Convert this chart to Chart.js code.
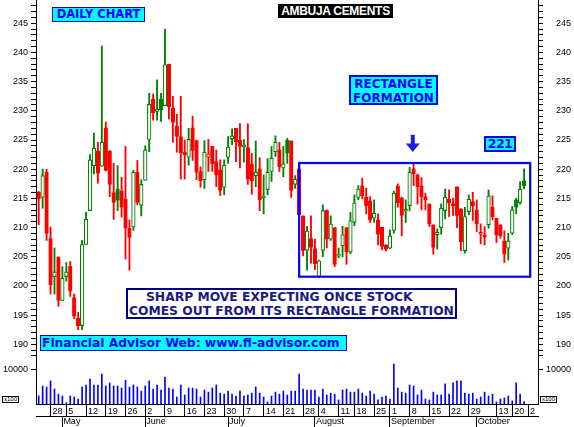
<!DOCTYPE html>
<html>
<head>
<meta charset="utf-8">
<script src="https://cdn.jsdelivr.net/npm/chart.js@4/dist/chart.umd.min.js"></script>
<style>
html,body{margin:0;padding:0;background:#fff;}
#wrap{position:relative;width:574px;height:427px;overflow:hidden;background:#fff;}
#c{position:absolute;left:0;top:0;}
.note{position:absolute;box-sizing:border-box;font-family:"DejaVu Sans",Verdana,sans-serif;font-weight:bold;white-space:nowrap;line-height:1;}
#daily{left:52px;top:7px;width:93px;height:15px;border:1px solid #0000ff;background:#00ffff;color:#0000ff;font-size:11.5px;text-align:center;line-height:13px;}
#title{left:278px;top:4px;width:115px;height:14px;background:#000;color:#fff;font-family:"Liberation Sans",Arial,sans-serif;font-size:12px;letter-spacing:-0.3px;text-align:center;line-height:14px;}
#rect{left:349px;top:75px;width:89px;height:30px;border:2px solid #0000ff;background:#00ffff;color:#0000ff;font-size:12px;text-align:center;line-height:14px;padding-top:0px;}
#lvl{left:484px;top:136px;width:32px;height:16px;border:2px solid #0000ff;background:#00ffff;color:#0000ff;font-size:12.5px;letter-spacing:-0.6px;text-align:center;line-height:12px;}
#sharp{left:126px;top:288px;width:331px;height:31px;border:2px solid #000080;background:#fff;color:#1a1a80;font-size:12.3px;line-height:13.5px;padding-top:1px;}
#sharp .l1{padding-left:18px;}
#sharp .l2{padding-left:1px;}
#web{left:40px;top:335px;width:307px;height:16px;border:1px solid #0000ff;background:#00ffff;color:#0000ff;font-size:12.3px;line-height:14px;padding-left:1px;}
.x100{position:absolute;box-sizing:border-box;border:1px solid #000;background:#fff;color:#000;font-family:"Liberation Sans",Arial,sans-serif;font-size:6px;line-height:5px;height:7px;width:17px;text-align:center;}
#xl{left:2px;top:396px;}
#xr{left:540px;top:396px;}
</style>
</head>
<body>
<div id="wrap">
<canvas id="c" width="574" height="427"></canvas>
<div class="note" id="daily">DAILY CHART</div>
<div class="note" id="title">AMBUJA CEMENTS</div>
<div class="note" id="rect">RECTANGLE<br>FORMATION</div>
<div class="note" id="lvl">221</div>
<div class="note" id="sharp"><div class="l1">SHARP MOVE EXPECTING ONCE STOCK</div><div class="l2">COMES OUT FROM ITS RECTANGLE FORMATION</div></div>
<div class="note" id="web">Financial Advisor Web: www.fi-advisor.com</div>
<div class="x100" id="xl">x100</div>
<div class="x100" id="xr">x100</div>
</div>
<script>
// ---- data (trading days, 22 Apr 2014 .. 23 Oct 2014) ----
const opens = [216.1,215.2,219.5,208.1,201.6,204.9,197.5,201.6,203.4,198.0,194.5,193.2,207.1,212.9,220.6,223.1,220.5,227.1,223.1,216.0,
216.6,216.3,214.9,209.9,210.1,219.5,213.8,218.1,225.1,232.0,229.9,232.0,230.9,238.0,230.5,227.4,225.6,222.9,222.05,227.1,
224.9,219.6,218.2,222.05,223.9,221.3,219.9,216.9,222.05,225.2,227.0,225.0,223.8,223.7,220.85,218.9,220.05,215.1,216.5,219.6,
223.0,223.3,220.2,225.0,224.85,217.4,220.05,212.0,206.1,208.1,206.4,201.6,206.1,213.0,208.0,210.0,205.1,206.9,210.0,205.8,
210.9,215.15,217.14,215.2,214.57,211.6,211.31,210.06,207.03,206.46,209.49,217.14,215.02,212.8,213.77,220.05,219.02,217.14,215.25,214.05,
210.46,208.8,210.0,212.91,214.85,214.05,216.96,213.2,206.06,212.74,214.45,213.03,208.86,208.75,210.46,213.48,211.6,210.46,207.72,206.46,
209.03,214.74,214.28,217.99];
const highs = [216.2,220.0,220.0,210.1,206.5,205.0,203.3,204.0,204.2,198.6,195.5,207.8,212.6,222.5,226.2,224.6,241.1,228.1,223.2,221.0,
220.6,218.6,223.9,211.3,219.8,221.5,218.2,224.0,233.0,232.9,235.3,233.0,244.0,238.0,232.5,229.4,232.5,225.0,227.0,229.1,
225.0,220.4,224.9,225.1,223.9,223.3,221.6,221.6,225.6,226.9,227.0,227.8,225.1,227.8,222.7,224.85,222.0,219.0,221.8,223.9,
225.7,224.6,223.9,225.3,224.85,218.9,221.0,212.0,210.2,212.0,208.0,204.4,213.9,213.0,212.0,210.0,206.5,210.2,210.0,212.6,
215.6,217.2,218.45,216.74,215.31,214.74,212.34,210.06,207.03,209.6,216.28,217.48,215.2,214.74,220.33,220.9,219.19,218.56,215.88,214.05,
210.46,209.77,214.05,216.62,216.45,215.02,216.96,213.2,213.48,215.59,216.05,214.74,210.63,210.17,216.45,215.42,211.6,210.46,209.43,209.03,
213.6,215.02,217.88,220.05];
const lows = [210.5,213.3,207.8,198.6,198.6,196.5,197.5,200.8,198.2,194.4,192.5,192.5,207.1,212.9,219.2,217.6,220.5,219.7,215.3,211.4,
212.9,211.8,204.6,202.7,209.5,213.9,212.0,218.1,223.0,228.4,228.4,228.2,230.9,228.6,224.6,222.9,218.3,218.3,220.7,221.5,
218.2,216.9,216.7,219.6,219.6,217.0,215.5,215.6,221.0,224.2,221.3,220.2,221.2,217.4,215.7,217.0,212.9,212.35,215.6,217.9,
222.2,219.6,218.7,221.0,215.15,216.7,212.0,205.15,202.7,203.9,202.8,201.4,205.0,206.5,207.8,203.3,204.8,205.0,203.7,205.5,
210.3,214.75,214.9,212.34,210.86,210.91,207.03,206.18,206.0,206.35,209.03,213.5,208.57,210.86,212.86,217.19,214.0,213.03,213.03,210.17,
205.43,206.29,208.86,211.48,211.88,212.06,210.0,206.06,205.61,212.17,211.2,209.32,207.2,207.03,209.89,211.31,207.43,208.17,204.01,204.46,
208.8,212.34,214.0,216.62];
const closes = [214.9,218.9,209.0,200.2,202.4,197.5,201.3,202.4,199.1,194.8,193.2,207.1,211.4,221.6,223.6,219.3,224.6,219.8,217.4,214.3,
214.7,213.5,209.9,208.3,219.5,214.3,217.4,223.3,231.1,229.7,230.0,230.2,237.9,230.7,228.0,225.6,222.8,222.5,225.1,223.2,
219.5,218.0,222.9,222.6,220.9,219.0,216.35,220.7,223.8,225.7,224.7,223.9,223.95,218.3,218.0,219.5,214.75,215.25,219.5,221.9,
224.6,220.45,220.9,222.75,216.35,218.3,212.2,206.1,209.4,206.6,203.8,204.3,212.9,208.0,210.6,203.7,205.3,208.75,205.8,211.15,
214.2,216.6,215.45,213.77,211.31,212.46,208.86,206.75,206.29,208.57,215.88,214.28,212.06,212.9,219.48,219.19,217.02,215.31,214.74,210.63,
206.58,209.2,213.31,215.2,214.28,213.77,212.06,207.6,211.88,214.85,213.71,210.63,209.2,208.35,215.42,211.88,208.75,208.63,205.43,207.72,
213.03,213.48,216.56,217.19];
const volumes = [2400,5300,5000,6800,4400,2900,2350,400,2350,2060,1470,5000,5600,7350,5600,5600,8800,5300,6200,5300,
5300,4700,7000,5000,5600,5000,3800,5300,6800,4400,5600,4100,7900,4700,4400,2060,5600,2650,4700,4700,
4400,2060,4100,3500,4700,5600,3200,2900,3800,2900,2300,3800,2350,2650,3200,5000,3200,2060,600,2350,
3500,2900,3800,2650,3800,3800,8800,4400,4100,4100,4100,2060,4400,2650,3200,2900,1200,4100,4400,3500,
3500,4400,3200,2350,3800,2900,1200,2060,2350,1470,11760,4700,3500,3200,5600,5300,2650,4100,1470,1200,
3500,2650,2650,5900,2900,6200,6800,6800,3200,2900,3200,1470,2060,3500,2350,2900,600,1470,1760,2350,
900,6200,2900,700];

// tick labels (trading-day index of each Monday / first day of month)
const weekTickIdx = [3,7,12,17,22,27,32,37,42,47,52,57,62,67,71,76,80,85,89,94,99,104,109,116,120,124];
const weekTickLabels = ['28','5','12','19','26','2','9','16','23','30','7','14','21','28','4','11','18','25','1','8','15','22','29','13','20','2'];
const monthTickIdx = [6,27,48,70,89,111];
const monthTickLabels = ['May','June','July','August','September','October'];
const volumeTickValues = [10000];

// annotation levels
const rectangleDays = [66, 124.55];
const rectangleLevels = [221.06, 201.58];
const arrowDay = 94.8;
const arrowLevels = [225.9, 224.4, 222.95];

// ---- derived styles ----
const GREEN = '#008000', RED = '#ff0000';
const dayIdx = closes.map((_, i) => i);
const candleColor = closes.map((c, i) => (i === 0 ? c >= opens[i] : c >= closes[i - 1]) ? GREEN : RED);
const bodyFill = closes.map((c, i) => c > opens[i] ? '#ffffff' : candleColor[i]);

const X_MIN = -0.684, X_MAX = 126.53;
const Y_MIN = 187.65, Y_MAX = 248.99;
const VOL_MAX = 13529;

Chart.defaults.font.family = '"Liberation Sans", Arial, sans-serif';
Chart.defaults.font.size = 9;
Chart.defaults.color = '#000';

const annot = {
  id: 'annot',
  afterDatasetsDraw(chart) {
    const {ctx} = chart;
    const x = chart.scales.x, y = chart.scales.y;
    ctx.save();
    const x1 = x.getPixelForValue(rectangleDays[0]);
    const x2 = x.getPixelForValue(rectangleDays[1]);
    const y1 = y.getPixelForValue(rectangleLevels[0]);
    const y2 = y.getPixelForValue(rectangleLevels[1]);
    ctx.strokeStyle = '#0000ff';
    ctx.lineWidth = 2.2;
    ctx.strokeRect(x1, y1, x2 - x1, y2 - y1);
    const ax = x.getPixelForValue(arrowDay);
    const a0 = y.getPixelForValue(arrowLevels[0]);
    const a1 = y.getPixelForValue(arrowLevels[1]);
    const a2 = y.getPixelForValue(arrowLevels[2]);
    ctx.fillStyle = '#1c1ce6';
    ctx.beginPath();
    ctx.moveTo(ax - 2, a0);
    ctx.lineTo(ax + 2, a0);
    ctx.lineTo(ax + 2, a1);
    ctx.lineTo(ax + 7, a1);
    ctx.lineTo(ax, a2);
    ctx.lineTo(ax - 7, a1);
    ctx.lineTo(ax - 2, a1);
    ctx.closePath();
    ctx.fill();
    ctx.restore();
  }
};

function fixWidth(w) {
  return (s) => { s.width = w; s.paddingTop = 0; s.paddingBottom = 0; };
}
function fixHeight(h) {
  return (s) => { s.height = h; s.paddingLeft = 0; s.paddingRight = 0; };
}
function intTicks(s) {
  const t = [];
  for (let v = Math.ceil(s.min); v <= Math.floor(s.max); v++) t.push({value: v});
  s.ticks = t;
}
const priceLabel = (v) => (v % 5 === 0 ? String(v) : '');

new Chart(document.getElementById('c'), {
  type: 'bar',
  data: {
    datasets: [
      {
        label: 'range',
        data: dayIdx.map(i => ({x: i, y: [lows[i], highs[i]]})),
        backgroundColor: candleColor,
        borderWidth: 0,
        barThickness: 1.2,
        grouped: false,
        order: 3,
        xAxisID: 'x', yAxisID: 'y'
      },
      {
        label: 'body',
        data: dayIdx.map(i => ({x: i, y: [opens[i], closes[i]]})),
        backgroundColor: bodyFill,
        borderColor: candleColor,
        borderWidth: 1.1,
        borderSkipped: false,
        barThickness: 3.6,
        minBarLength: 2,
        grouped: false,
        order: 2,
        xAxisID: 'x', yAxisID: 'y'
      },
      {
        label: 'volume',
        data: dayIdx.map(i => ({x: i, y: volumes[i]})),
        backgroundColor: '#0000ff',
        borderWidth: 0,
        barThickness: 1,
        grouped: false,
        order: 1,
        xAxisID: 'x', yAxisID: 'yv'
      }
    ]
  },
  options: {
    responsive: false,
    devicePixelRatio: 1,
    animation: false,
    layout: {padding: {left: 0, right: 3, top: 0, bottom: 0}},
    plugins: {legend: {display: false}, tooltip: {enabled: false}},
    scales: {
      x: {
        type: 'linear', position: 'bottom', weight: 1, min: X_MIN, max: X_MAX, offset: false,
        afterBuildTicks: (s) => { s.ticks = weekTickIdx.map(v => ({value: v})); },
        afterFit: fixHeight(12),
        ticks: {autoSkip: false, maxRotation: 0, minRotation: 0, align: 'start', labelOffset: 2, padding: -10,
          callback: (v, i) => weekTickLabels[i]},
        grid: {drawOnChartArea: false, drawTicks: true, tickLength: 12, color: '#000', offset: false},
        border: {display: true, color: '#000', width: 1}
      },
      xm: {
        type: 'linear', position: 'bottom', weight: 2, min: X_MIN, max: X_MAX, offset: false,
        afterBuildTicks: (s) => { s.ticks = monthTickIdx.map(v => ({value: v})); },
        afterFit: fixHeight(11),
        ticks: {autoSkip: false, maxRotation: 0, minRotation: 0, align: 'start', labelOffset: 1, padding: -10.8,
          callback: (v, i) => monthTickLabels[i]},
        grid: {drawOnChartArea: false, drawTicks: true, tickLength: 11, color: '#000', offset: false},
        border: {display: true, color: '#000', width: 1}
      },
      y: {
        type: 'linear', position: 'left', stack: 'L', stackWeight: 358, weight: 2, min: Y_MIN, max: Y_MAX,
        afterBuildTicks: intTicks,
        afterFit: fixWidth(36),
        ticks: {autoSkip: false, padding: 3, callback: priceLabel},
        grid: {drawOnChartArea: false, tickLength: 5, color: '#000'},
        border: {display: true, color: '#000'}
      },
      yv: {
        type: 'linear', position: 'left', stack: 'L', stackWeight: 46, weight: 1, min: 0, max: VOL_MAX,
        afterBuildTicks: (s) => { s.ticks = volumeTickValues.map(v => ({value: v})); },
        afterFit: fixWidth(36),
        ticks: {autoSkip: false, padding: 3, callback: (v) => String(v)},
        grid: {drawOnChartArea: false, tickLength: 5, color: '#000'},
        border: {display: true, color: '#000'}
      },
      yR: {
        type: 'linear', position: 'right', stack: 'R', stackWeight: 358, weight: 1, min: Y_MIN, max: Y_MAX,
        afterBuildTicks: intTicks,
        afterFit: fixWidth(33),
        ticks: {autoSkip: false, crossAlign: 'far', callback: priceLabel},
        grid: {drawOnChartArea: false, tickLength: 5, color: '#000'},
        border: {display: true, color: '#000'}
      },
      yvR: {
        type: 'linear', position: 'right', stack: 'R', stackWeight: 46, weight: 2, min: 0, max: VOL_MAX,
        afterBuildTicks: (s) => { s.ticks = volumeTickValues.map(v => ({value: v})); },
        afterFit: fixWidth(33),
        ticks: {autoSkip: false, crossAlign: 'far', callback: (v) => String(v)},
        grid: {drawOnChartArea: false, tickLength: 5, color: '#000'},
        border: {display: true, color: '#000'}
      }
    }
  },
  plugins: [annot]
});
</script>
</body>
</html>
